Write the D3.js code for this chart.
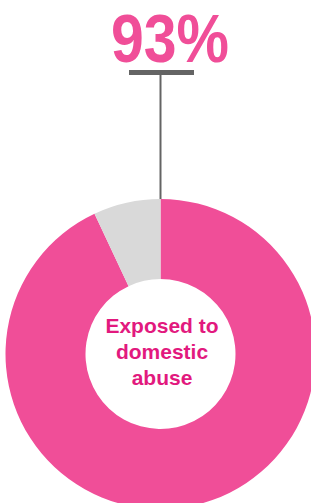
<!DOCTYPE html>
<html>
<head>
<meta charset="utf-8">
<script src="https://cdn.jsdelivr.net/npm/d3@7"></script>
<style>
  html, body { margin: 0; padding: 0; background: #fff; }
  svg { display: block; }
</style>
</head>
<body>
<svg id="chart" width="311" height="503"></svg>
<script>
// datos del gráfico
const categories = ['Exposed to domestic abuse', 'Not exposed'];
const values = [93, 7];
const headline = '93%';
const centerLines = ['Exposed to', 'domestic', 'abuse'];

const W = 311, H = 503;
const CX = 160.5, CY = 354;
const R_OUT = 155, R_IN = 75;
const PINK = '#F04E98';
const GREY = '#D9D9D9';
const TEXT_PINK = '#E2197E';
const LINE = '#646464';
const FONT = 'Liberation Sans, Arial, sans-serif';

const svg = d3.select('#chart');

const pie = d3.pie().sort(null).value(d => d.v);
const arc = d3.arc().innerRadius(R_IN).outerRadius(R_OUT);

const slices = pie(categories.map((c, i) => ({ c, v: values[i] })));

const g = svg.append('g').attr('transform', `translate(${CX},${CY})`);
g.selectAll('path')
  .data(slices)
  .join('path')
  .attr('d', arc)
  .attr('fill', (d, i) => i === 0 ? PINK : GREY);

// linea guía desde el arco hasta el número
const startAngle = slices[0].startAngle;
const topY = CY - R_OUT * Math.cos(startAngle);
svg.append('line')
  .attr('x1', CX).attr('x2', CX)
  .attr('y1', 74).attr('y2', topY)
  .attr('stroke', LINE).attr('stroke-width', 2);

svg.append('rect')
  .attr('x', 129).attr('y', 70)
  .attr('width', 65).attr('height', 5)
  .attr('fill', LINE);

svg.append('text')
  .attr('x', 170).attr('y', 62)
  .attr('text-anchor', 'middle')
  .attr('font-family', FONT)
  .attr('font-weight', 'bold')
  .attr('font-size', 68)
  .attr('fill', PINK)
  .attr('textLength', 118)
  .attr('lengthAdjust', 'spacingAndGlyphs')
  .text(headline);

// texto central
svg.append('g')
  .selectAll('text')
  .data(centerLines)
  .join('text')
  .attr('x', 162)
  .attr('y', (d, i) => 333 + i * 26)
  .attr('text-anchor', 'middle')
  .attr('font-family', FONT)
  .attr('font-weight', 'bold')
  .attr('font-size', 21)
  .attr('fill', TEXT_PINK)
  .text(d => d);
</script>
</body>
</html>
